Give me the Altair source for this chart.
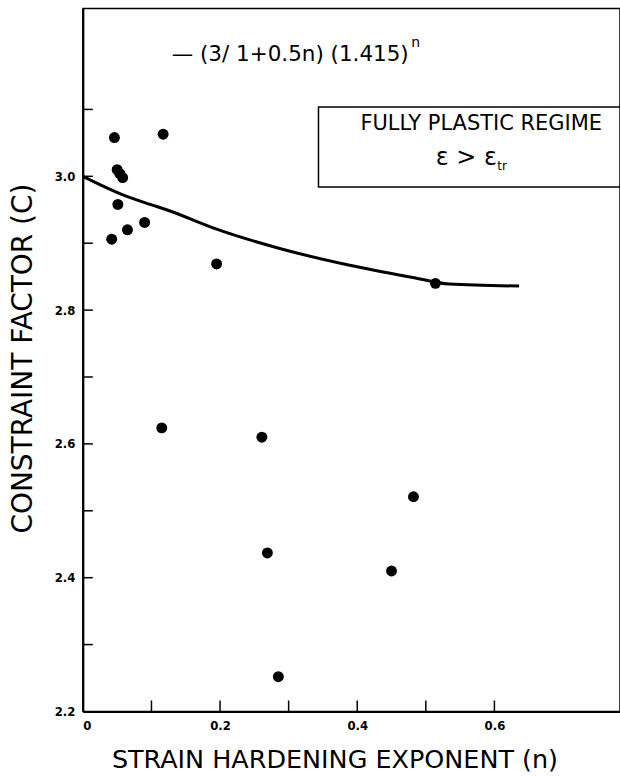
import altair as alt
import pandas as pd

# ---- data ----
n_obs = [0.046, 0.117, 0.050, 0.054, 0.058, 0.051, 0.090, 0.065, 0.042,
         0.195, 0.514, 0.115, 0.261, 0.482, 0.269, 0.450, 0.285]
c_obs = [3.058, 3.063, 3.010, 3.004, 2.998, 2.958, 2.931, 2.920, 2.906,
         2.869, 2.840, 2.624, 2.610, 2.521, 2.437, 2.410, 2.252]

curve_n = [0.0, 0.064, 0.098, 0.122, 0.195, 0.291, 0.389, 0.485, 0.534, 0.636]
curve_c = [3.000, 2.970, 2.958, 2.950, 2.921, 2.891, 2.867, 2.848, 2.839, 2.836]

x_label_values = [0.0, 0.2, 0.4, 0.6]
x_tick_values = [0.1, 0.2, 0.3, 0.4, 0.5, 0.6]
y_label_values = [2.2, 2.4, 2.6, 2.8, 3.0]
y_tick_values = [2.3, 2.4, 2.5, 2.6, 2.7, 2.8, 2.9, 3.0, 3.1]

x_title = "STRAIN HARDENING EXPONENT (n)"
y_title = "CONSTRAINT FACTOR (C)"
legend_text = "\u2014 (3/ 1+0.5n) (1.415)"
legend_sup = "n"
box_line1 = "FULLY PLASTIC REGIME"
box_line2 = "\u03b5 > \u03b5"
box_sub = "tr"

W, H = 538, 704
x_domain = [0.0, 0.7831]
y_domain = [2.2, 3.2507]

obs = pd.DataFrame({"n": n_obs, "c": c_obs})
curve = pd.DataFrame({"n": curve_n, "c": curve_c})
xt = pd.DataFrame({"v": x_tick_values})
yt = pd.DataFrame({"v": y_tick_values})
one = alt.Data(values=[{"k": 1}])

x_axis = alt.Axis(
    values=x_label_values, ticks=False, grid=False,
    labelExpr="datum.value == 0 ? '0' : format(datum.value, '.1f')",
    labelPadding=8, labelBaseline="top",
    title=x_title, titleX=252, titleY=56, titleAlign="center",
    titleBaseline="alphabetic", titleFont="DejaVu Sans", titleFontSize=25.5,
    titleFontWeight="normal",
)
y_axis = alt.Axis(
    values=y_label_values, ticks=False, grid=False, format=".1f",
    labelPadding=8,
    title=y_title, titleX=-51, titleY=350, titleAngle=270, titleAlign="center",
    titleBaseline="alphabetic", titleFont="DejaVu Sans", titleFontSize=28,
    titleFontWeight="normal",
)
xs = alt.Scale(domain=x_domain, nice=False, zero=False)
ys = alt.Scale(domain=y_domain, nice=False, zero=False)


def X(f):
    return alt.X(f, type="quantitative", scale=xs, axis=x_axis)


def Y(f):
    return alt.Y(f, type="quantitative", scale=ys, axis=y_axis)


line = alt.Chart(curve).mark_line(
    color="black", strokeWidth=3, interpolate="monotone", clip=True
).encode(x=X("n"), y=Y("c"))

pts = alt.Chart(obs).mark_circle(size=120, color="black", opacity=1).encode(
    x=X("n"), y=Y("c")
)

xticks = alt.Chart(xt).mark_rule(color="black", strokeWidth=1.5).encode(
    x=X("v"), y=alt.value(H), y2=alt.value(H - 11)
)
yticks = alt.Chart(yt).mark_rule(color="black", strokeWidth=1.5).encode(
    y=Y("v"), x=alt.value(0), x2=alt.value(10)
)

box = alt.Chart(one).mark_rect(
    fill="white", fillOpacity=0, stroke="black", strokeWidth=1.5
).encode(x=alt.value(236), x2=alt.value(600), y=alt.value(98.5), y2=alt.value(178.7))

t_leg = alt.Chart(one).mark_text(
    text=legend_text, font="DejaVu Sans", fontSize=21.5, align="left",
    baseline="alphabetic", color="black"
).encode(x=alt.value(89), y=alt.value(52))
t_sup = alt.Chart(one).mark_text(
    text=legend_sup, font="DejaVu Sans", fontSize=14, align="left",
    baseline="alphabetic", color="black"
).encode(x=alt.value(329), y=alt.value(38))

t_b1 = alt.Chart(one).mark_text(
    text=box_line1, font="DejaVu Sans", fontSize=21, align="center",
    baseline="alphabetic", color="black"
).encode(x=alt.value(399), y=alt.value(122))
t_b2 = alt.Chart(one).mark_text(
    text=box_line2, font="DejaVu Sans", fontSize=24, align="center",
    baseline="alphabetic", color="black"
).encode(x=alt.value(384), y=alt.value(157))
t_b3 = alt.Chart(one).mark_text(
    text=box_sub, font="DejaVu Sans", fontSize=12, align="left",
    baseline="alphabetic", color="black"
).encode(x=alt.value(415), y=alt.value(162))

chart = alt.layer(
    box, line, pts, xticks, yticks, t_leg, t_sup, t_b1, t_b2, t_b3
).properties(
    width=W, height=H,
    autosize=alt.AutoSizeParams(type="none"),
    padding={"left": 83, "top": 8, "right": 0, "bottom": 64},
    background="white",
).configure_view(
    stroke="black", strokeWidth=1.5
).configure_axis(
    domainColor="black", domainWidth=2,
    labelFont="DejaVu Sans Condensed", labelFontSize=13, labelFontWeight="bold",
    labelColor="black", titleColor="black",
)

chart.save("out.html", embed_options={"renderer": "svg", "actions": False})
